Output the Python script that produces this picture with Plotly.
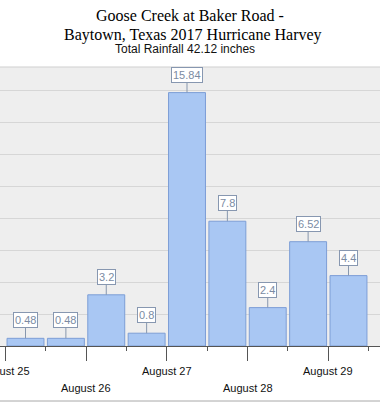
import plotly.graph_objects as go

# ---- data ----
bar_times = ["2017-08-25 06:00", "2017-08-25 18:00", "2017-08-26 06:00", "2017-08-26 18:00",
             "2017-08-27 06:00", "2017-08-27 18:00", "2017-08-28 06:00", "2017-08-28 18:00",
             "2017-08-29 06:00"]
rainfall = [0.48, 0.48, 3.2, 0.8, 15.84, 7.8, 2.4, 6.52, 4.4]
day_ticks = ["2017-08-25", "2017-08-26", "2017-08-27", "2017-08-28", "2017-08-29"]
day_labels = ["August 25", "August 26", "August 27", "August 28", "August 29"]
half_day_ticks = ["2017-08-25 12:00", "2017-08-26 12:00", "2017-08-27 12:00",
                  "2017-08-28 12:00", "2017-08-29 12:00"]
title_line1 = "Goose Creek at Baker Road -"
title_line2 = "Baytown, Texas 2017 Hurricane Harvey"
subtitle = "Total Rainfall 42.12 inches"

W, H = 380, 405
T, B = 67, 59
plot_h = H - T - B

bar_width_ms = 12 * 3600 * 1000 * 0.915

fig = go.Figure()
fig.add_trace(go.Bar(
    x=bar_times, y=rainfall, width=bar_width_ms,
    marker=dict(color="#a9c7f3", line=dict(color="#7d9ed6", width=1)),
    hoverinfo="skip",
))

annotations = []
for t, v in zip(bar_times, rainfall):
    annotations.append(dict(
        x=t, y=v, xref="x", yref="y", text=f"{v:g}",
        showarrow=True, arrowhead=0, arrowwidth=1, arrowcolor="#8797ae",
        ax=0, ay=-18, bordercolor="#8797b0", borderwidth=1, borderpad=1,
        bgcolor="white", font=dict(family="Liberation Sans", size=11, color="#7b8ba3"),
    ))

for i, (t, lab) in enumerate(zip(day_ticks, day_labels)):
    annotations.append(dict(
        x=t, y=0, xref="x", yref="paper", text=lab, showarrow=False,
        yanchor="middle", yshift=-25 if i % 2 == 0 else -42,
        font=dict(family="Liberation Sans", size=11, color="#111111"),
    ))

# titles (pixel centres 15, 35, 49 from the top; plot-area top at pixel T)
annotations.append(dict(
    x=0.5, y=1, xref="paper", yref="paper", yanchor="middle", yshift=T - 15,
    text=title_line1, showarrow=False,
    font=dict(family="Liberation Serif", size=16, color="#000000"),
))
annotations.append(dict(
    x=0.507, y=1, xref="paper", yref="paper", yanchor="middle", yshift=T - 35,
    text=title_line2, showarrow=False,
    font=dict(family="Liberation Serif", size=16, color="#000000"),
))
annotations.append(dict(
    x=0.487, y=1, xref="paper", yref="paper", yanchor="middle", yshift=T - 49,
    text=subtitle, showarrow=False,
    font=dict(family="Liberation Sans", size=12, color="#111111"),
))

fig.update_layout(
    width=W, height=H,
    margin=dict(l=0, r=0, t=T, b=B),
    paper_bgcolor="white", plot_bgcolor="#eeeeee",
    showlegend=False,
    annotations=annotations,
    xaxis=dict(
        type="date", range=["2017-08-24 22:25", "2017-08-29 15:22"],
        tickmode="array", tickvals=day_ticks, ticks="outside", ticklen=14,
        tickcolor="#555555", tickwidth=1, showticklabels=False,
        showgrid=False, showline=True, linecolor="#555555", linewidth=1,
        zeroline=False,
        minor=dict(tickmode="array", tickvals=half_day_ticks, ticks="outside",
                   ticklen=4, tickcolor="#555555", showgrid=False),
    ),
    yaxis=dict(
        range=[0, 17.44], dtick=2, tick0=0, showticklabels=False,
        showgrid=True, gridcolor="#d6d6d6", gridwidth=1, zeroline=False,
        showline=False,
    ),
    shapes=[
        dict(type="line", xref="paper", yref="paper", x0=0, x1=1, y0=1, y1=1,
             line=dict(color="#cfcfcf", width=1)),
        dict(type="line", xref="paper", yref="paper", x0=0, x1=1,
             y0=-(401 - (H - B)) / plot_h, y1=-(401 - (H - B)) / plot_h,
             line=dict(color="#a8a8a8", width=1)),
    ],
)

fig.write_html("out.html", config={"displayModeBar": False},
               post_script="document.body.style.margin='0';")
